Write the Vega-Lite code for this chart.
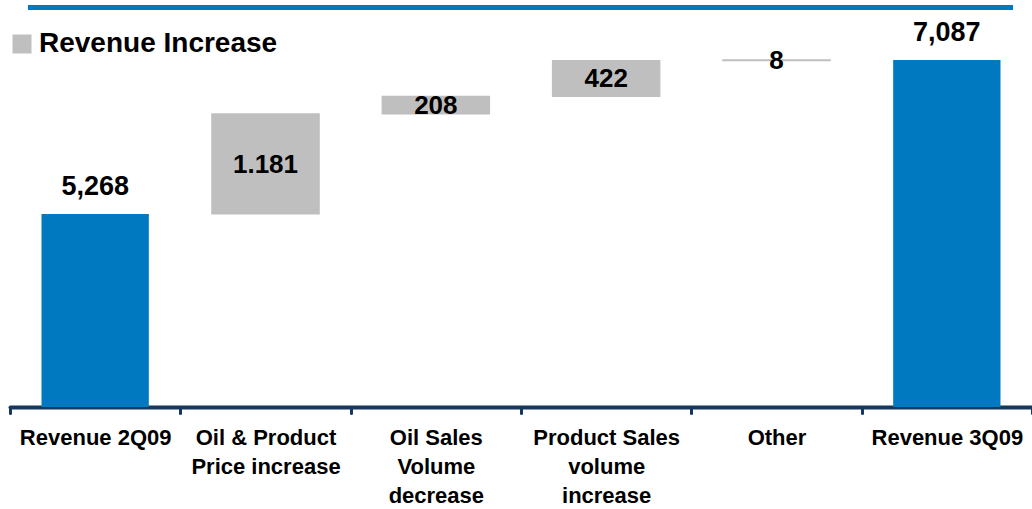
{
  "$schema": "https://vega.github.io/schema/vega-lite/v6.json",
  "width": 1022,
  "height": 407,
  "autosize": {"type": "none"},
  "padding": {"left": 10, "top": 0, "right": 0, "bottom": 102},
  "background": "white",
  "config": {"view": {"stroke": null}, "font": "Liberation Sans"},
  "data": {
    "values": [
      {"category": "Revenue 2Q09", "start": 0, "end": 5268, "label": "5,268", "kind": "Revenue"},
      {"category": "Oil & Product\nPrice increase", "start": 5268, "end": 6449, "label": "1.181", "kind": "Revenue Increase"},
      {"category": "Oil Sales\nVolume\ndecrease", "start": 6449, "end": 6657, "label": "208", "kind": "Revenue Increase"},
      {"category": "Product Sales\nvolume\nincrease", "start": 6657, "end": 7079, "label": "422", "kind": "Revenue Increase"},
      {"category": "Other", "start": 7079, "end": 7087, "label": "8", "kind": "Revenue Increase"},
      {"category": "Revenue 3Q09", "start": 0, "end": 7087, "label": "7,087", "kind": "Revenue"}
    ]
  },
  "layer": [
    {
      "mark": {"type": "bar", "width": {"band": 0.63}, "clip": true, "strokeWidth": 0},
      "encoding": {
        "x": {
          "field": "category", "type": "nominal", "sort": null,
          "scale": {"paddingInner": 0, "paddingOuter": 0},
          "axis": {
            "title": null, "labelAngle": 0, "labelFont": "Liberation Sans", "labelFontSize": 22,
            "labelFontWeight": "bold", "labelColor": "#000000", "labelLineHeight": 29,
            "labelPadding": 14, "labelLimit": 400, "labelOverlap": false,
            "labelExpr": "split(datum.label, '\\n')",
            "domainColor": "#17375E", "domainWidth": 4, "domainCap": "round",
            "tickColor": "#17375E", "tickWidth": 3, "tickSize": 6, "tickBand": "extent", "tickCap": "round",
            "grid": false
          }
        },
        "y": {"field": "end", "type": "quantitative", "scale": {"domain": [2988, 7795], "nice": false, "zero": false}, "axis": null},
        "y2": {"field": "start"},
        "color": {
          "field": "kind", "type": "nominal",
          "scale": {"domain": ["Revenue Increase", "Revenue"], "range": ["#BFBFBF", "#0079C1"]},
          "legend": {
            "values": ["Revenue Increase"], "orient": "none", "legendX": -2, "legendY": 30, "title": null,
            "symbolType": "square", "symbolSize": 361, "symbolStrokeWidth": 0, "symbolFillColor": "#BFBFBF",
            "labelFontSize": 28, "labelFontWeight": "bold", "labelColor": "#000000", "labelFont": "Liberation Sans",
            "labelOffset": 3, "labelLimit": 500, "padding": 0
          }
        }
      }
    },
    {
      "transform": [{"filter": "datum.kind == 'Revenue Increase'"}],
      "mark": {"type": "bar", "width": {"band": 0.63}, "fill": null, "stroke": "#BFBFBF", "strokeWidth": 1.2},
      "encoding": {
        "x": {"field": "category", "type": "nominal", "sort": null},
        "y": {"field": "end", "type": "quantitative"},
        "y2": {"field": "start"}
      }
    },
    {
      "transform": [{"filter": "datum.kind == 'Revenue'"}],
      "mark": {"type": "text", "font": "Liberation Sans", "fontSize": 27, "fontWeight": "bold", "color": "#000000", "baseline": "alphabetic", "dy": -19},
      "encoding": {
        "x": {"field": "category", "type": "nominal", "sort": null},
        "y": {"field": "end", "type": "quantitative"},
        "text": {"field": "label"}
      }
    },
    {
      "transform": [{"filter": "datum.kind == 'Revenue Increase'"}, {"calculate": "(datum.start + datum.end) / 2", "as": "mid"}],
      "mark": {"type": "text", "font": "Liberation Sans", "fontSize": 26, "fontWeight": "bold", "color": "#000000", "baseline": "middle", "dy": 1},
      "encoding": {
        "x": {"field": "category", "type": "nominal", "sort": null},
        "y": {"field": "mid", "type": "quantitative"},
        "text": {"field": "label"}
      }
    },
    {
      "mark": {"type": "rule", "color": "#0079C1", "strokeWidth": 5},
      "encoding": {
        "x": {"datum": "Revenue 2Q09", "bandPosition": 0.106},
        "x2": {"datum": "Revenue 3Q09", "bandPosition": 0.886},
        "y": {"datum": 7707, "type": "quantitative"}
      }
    }
  ]
}
